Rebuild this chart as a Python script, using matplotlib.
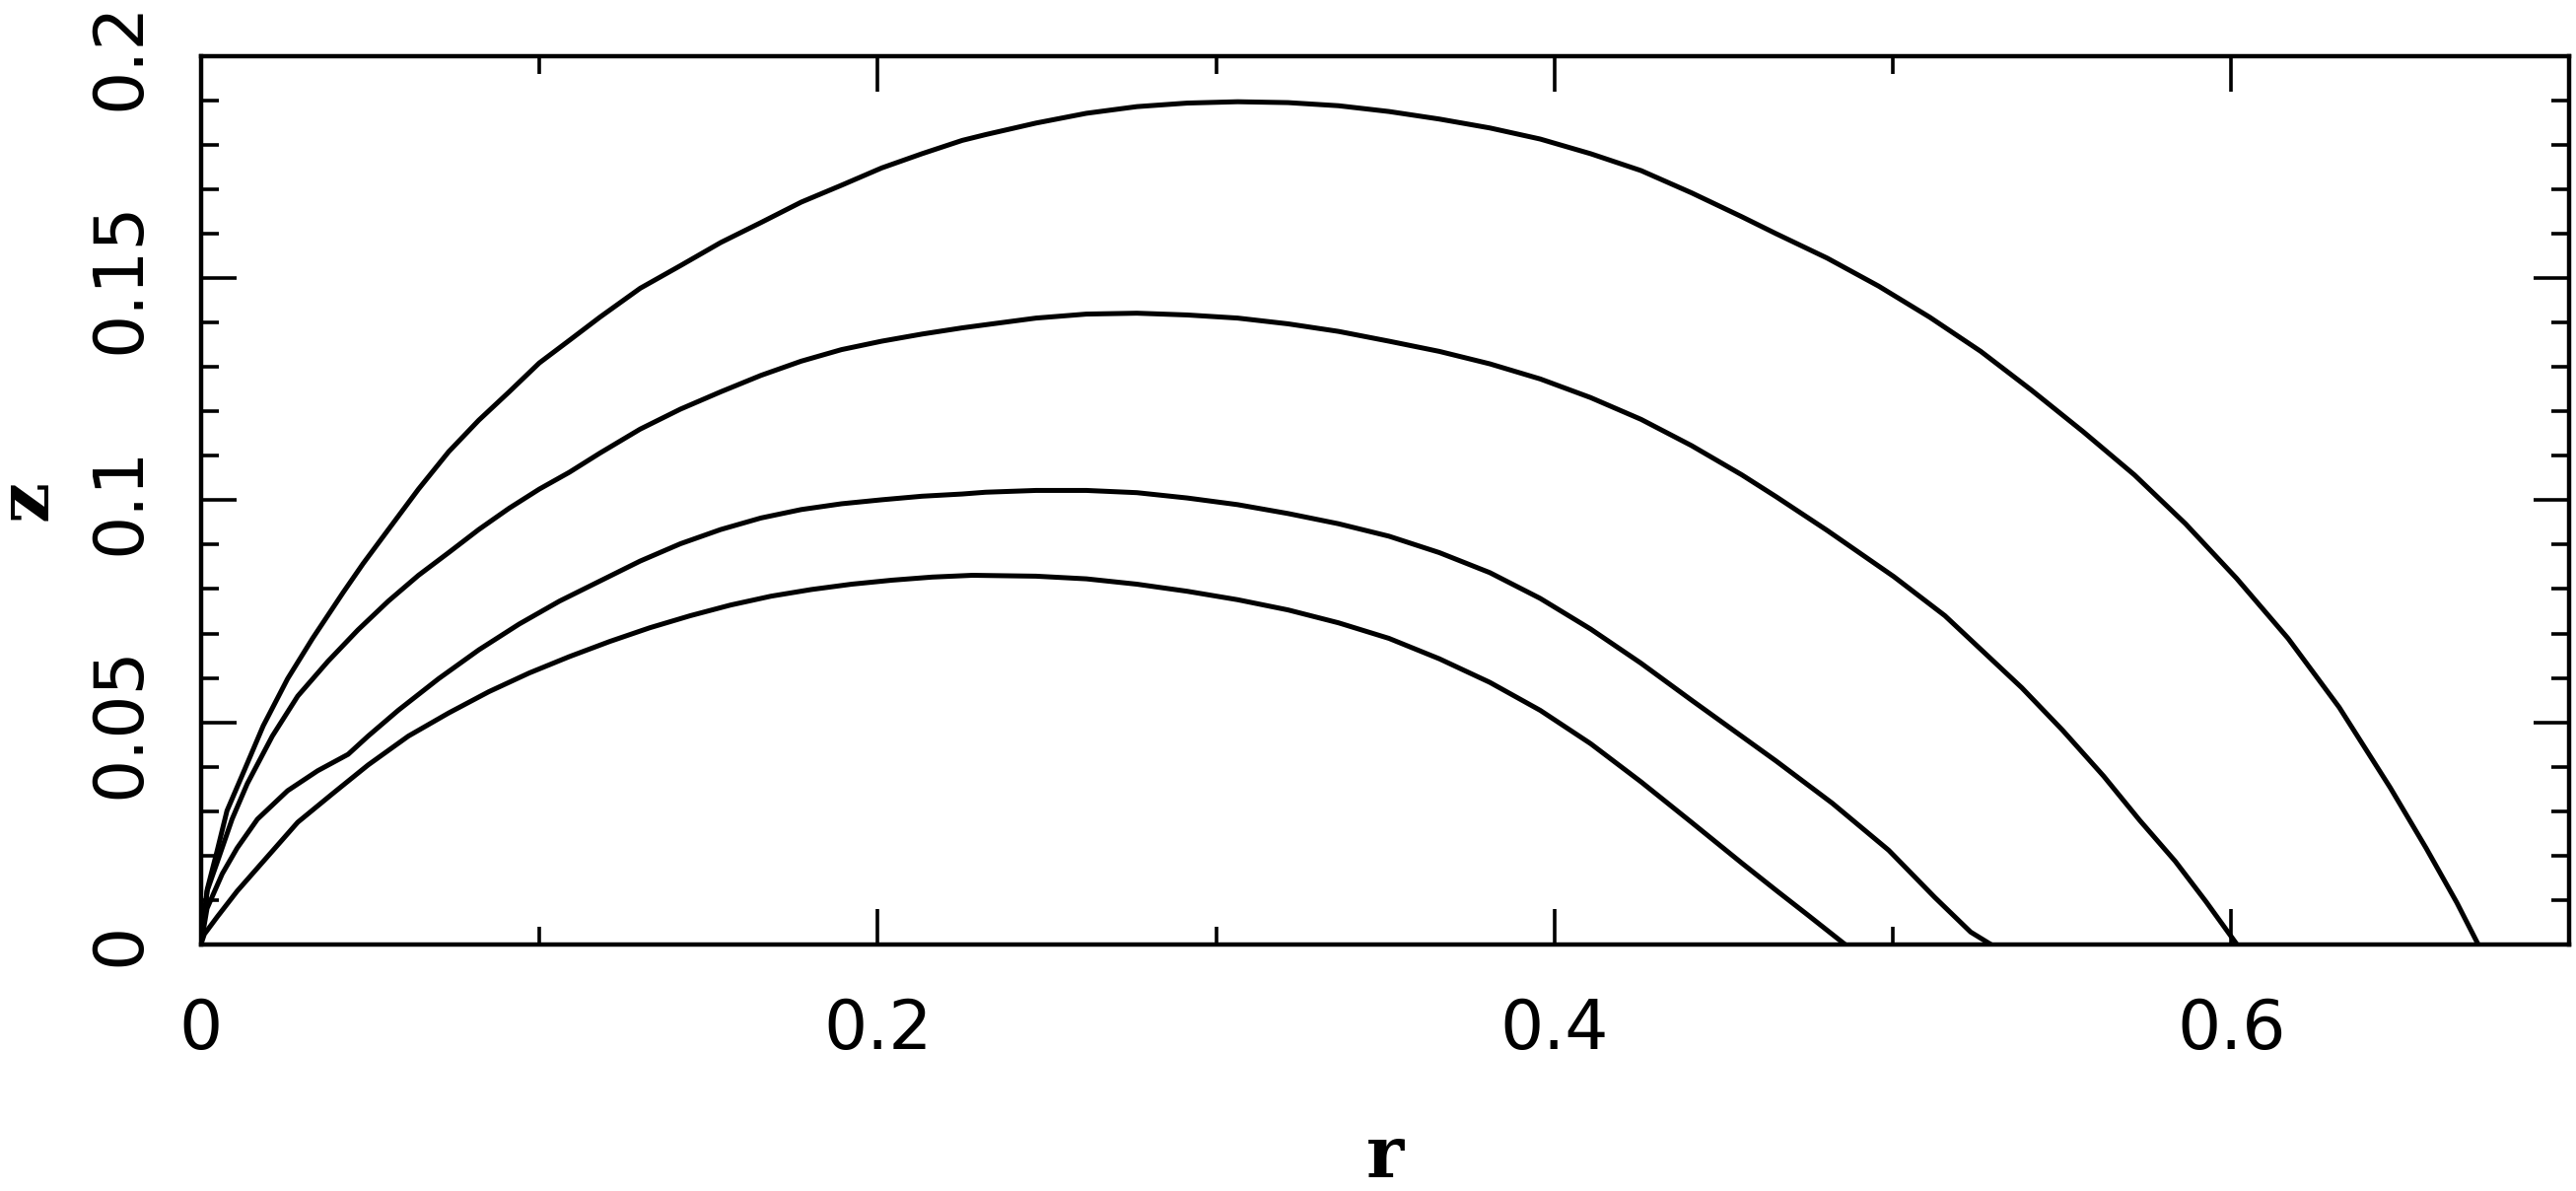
import matplotlib
matplotlib.use("Agg")
import matplotlib.pyplot as plt
from matplotlib.ticker import MultipleLocator

# curves, outermost first
r_a = [0, 0.0019, 0.0048, 0.0077, 0.0126, 0.0184, 0.0256, 0.033, 0.042, 0.0479,
       0.0554, 0.0643, 0.0732, 0.0821, 0.0911, 0.1, 0.1089, 0.1179, 0.1298, 0.1417,
       0.1536, 0.1655, 0.1774, 0.1893, 0.2012, 0.2131, 0.225, 0.2319, 0.2468, 0.2617,
       0.2766, 0.2915, 0.3064, 0.3213, 0.3362, 0.3511, 0.366, 0.3809, 0.3958, 0.4107,
       0.4256, 0.4405, 0.4554, 0.4655, 0.4806, 0.4958, 0.5109, 0.526, 0.5411, 0.5563,
       0.5714, 0.5865, 0.6016, 0.6168, 0.6319, 0.647, 0.6576, 0.6667, 0.673]
z_a = [0, 0.0125, 0.0211, 0.0301, 0.0388, 0.0492, 0.0598, 0.0689, 0.0792, 0.0857,
       0.0934, 0.1025, 0.1109, 0.118, 0.1244, 0.1309, 0.136, 0.1412, 0.1477, 0.1528,
       0.158, 0.1625, 0.1671, 0.1709, 0.1748, 0.178, 0.181, 0.1823, 0.1849, 0.1871,
       0.1886, 0.1894, 0.1897, 0.1895, 0.1888, 0.1875, 0.1858, 0.1838, 0.1813, 0.178,
       0.1742, 0.1692, 0.1638, 0.1600, 0.1545, 0.1482, 0.1412, 0.1335, 0.1247, 0.1154,
       0.1057, 0.0947, 0.0824, 0.0689, 0.0534, 0.0353, 0.0217, 0.0094, 0.0]

r_b = [0, 0.0018, 0.0048, 0.0092, 0.0137, 0.0211, 0.0286, 0.0375, 0.0464, 0.0554,
       0.0643, 0.0732, 0.0821, 0.0911, 0.1, 0.1089, 0.1179, 0.1298, 0.1417, 0.1536,
       0.1655, 0.1774, 0.1893, 0.2012, 0.2131, 0.225, 0.2319, 0.2468, 0.2617, 0.2766,
       0.2915, 0.3064, 0.3213, 0.3362, 0.3511, 0.366, 0.3809, 0.3958, 0.4107, 0.4256,
       0.4405, 0.4554, 0.4655, 0.4806, 0.5003, 0.5154, 0.5381, 0.5502, 0.5623, 0.5729,
       0.5835, 0.5926, 0.6017]
z_b = [0, 0.012, 0.0185, 0.0282, 0.0362, 0.0469, 0.0559, 0.0637, 0.0708, 0.0773,
       0.0831, 0.0882, 0.0934, 0.0982, 0.1025, 0.1063, 0.1106, 0.116, 0.1205, 0.1244,
       0.1281, 0.1313, 0.1339, 0.1358, 0.1374, 0.1388, 0.1395, 0.141, 0.1419, 0.1421,
       0.1417, 0.141, 0.1397, 0.138, 0.1358, 0.1335, 0.1307, 0.1273, 0.1231, 0.1182,
       0.1123, 0.1057, 0.1008, 0.0932, 0.0828, 0.0740, 0.0578, 0.0482, 0.0379, 0.0280,
       0.0187, 0.0096, 0.0]

r_c = [0, 0.0018, 0.0063, 0.0107, 0.0167, 0.0256, 0.0345, 0.0435, 0.0494, 0.0583,
       0.0702, 0.0821, 0.094, 0.106, 0.1179, 0.1298, 0.1417, 0.1536, 0.1655, 0.1774,
       0.1893, 0.2012, 0.2131, 0.225, 0.2319, 0.2468, 0.2617, 0.2766, 0.2915, 0.3064,
       0.3213, 0.3362, 0.3511, 0.366, 0.3809, 0.3958, 0.4107, 0.4256, 0.4405, 0.4655,
       0.4821, 0.4988, 0.5124, 0.523, 0.529]
z_c = [0, 0.0081, 0.0159, 0.0217, 0.0282, 0.0346, 0.0391, 0.0428, 0.0469, 0.0527,
       0.0598, 0.0663, 0.0721, 0.0773, 0.0818, 0.0863, 0.0902, 0.0934, 0.096, 0.0979,
       0.0992, 0.1001, 0.1009, 0.1014, 0.1018, 0.1022, 0.1022, 0.1017, 0.1005, 0.099,
       0.097, 0.0947, 0.0919, 0.0882, 0.0837, 0.0779, 0.0710, 0.0633, 0.0550, 0.0413,
       0.0318, 0.0212, 0.0106, 0.0028, 0.0]

r_d = [0, 0.001, 0.0048, 0.0107, 0.0182, 0.0286, 0.039, 0.0494, 0.0613, 0.0732,
       0.0851, 0.097, 0.1089, 0.1208, 0.1327, 0.1446, 0.1565, 0.1685, 0.1804, 0.1923,
       0.2042, 0.2161, 0.228, 0.2468, 0.2617, 0.2766, 0.2915, 0.3064, 0.3213, 0.3362,
       0.3511, 0.366, 0.3809, 0.3958, 0.4107, 0.4256, 0.4405, 0.4554, 0.4655, 0.4746,
       0.4859]
z_d = [0, 0.0023, 0.0062, 0.012, 0.0185, 0.0275, 0.034, 0.0404, 0.0469, 0.0521,
       0.0569, 0.0611, 0.0648, 0.0682, 0.0713, 0.074, 0.0764, 0.0784, 0.0799, 0.0811,
       0.082, 0.0827, 0.0831, 0.0829, 0.0823, 0.0811, 0.0795, 0.0776, 0.0753, 0.0724,
       0.0689, 0.0643, 0.0590, 0.0527, 0.0452, 0.0366, 0.0275, 0.0183, 0.0122, 0.0068,
       0.0]

x_ticks = [0, 0.2, 0.4, 0.6]
x_labels = ["0", "0.2", "0.4", "0.6"]
y_ticks = [0, 0.05, 0.1, 0.15, 0.2]
y_labels = ["0", "0.05", "0.1", "0.15", "0.2"]

fig = plt.figure(figsize=(26.13, 12.08), dpi=100)
ax = fig.add_axes([0.078, 0.207, 0.9195, 0.746])

for r, z in [(r_a, z_a), (r_b, z_b), (r_c, z_c), (r_d, z_d)]:
    ax.plot(r, z, color="black", lw=3.6, solid_joinstyle="round",
            solid_capstyle="round")

ax.set_xlim(0, 0.7)
ax.set_ylim(0, 0.2)

ax.set_xticks(x_ticks)
ax.set_xticklabels(x_labels)
ax.set_yticks(y_ticks)
ax.set_yticklabels(y_labels, rotation=90, va="center")
ax.xaxis.set_minor_locator(MultipleLocator(0.1))
ax.yaxis.set_minor_locator(MultipleLocator(0.01))

ax.tick_params(which="both", direction="in", top=True, right=True, width=2.6)
ax.tick_params(which="major", length=26)
ax.tick_params(which="minor", length=13)
ax.tick_params(axis="x", which="major", pad=38, labelsize=50)
ax.tick_params(axis="y", which="major", pad=35, labelsize=50)

for s in ax.spines.values():
    s.set_linewidth(3.2)

ax.set_xlabel("r", family="DejaVu Serif", weight="bold", fontsize=52)
ax.xaxis.set_label_coords(0.5, -0.262)
ax.xaxis.label.set_va("baseline")
ax.set_ylabel("z", family="DejaVu Serif", weight="bold", fontsize=52)
ax.yaxis.set_label_coords(-0.0735, 0.5)
ax.yaxis.label.set_va("center")

fig.savefig("out.png", dpi=100)
